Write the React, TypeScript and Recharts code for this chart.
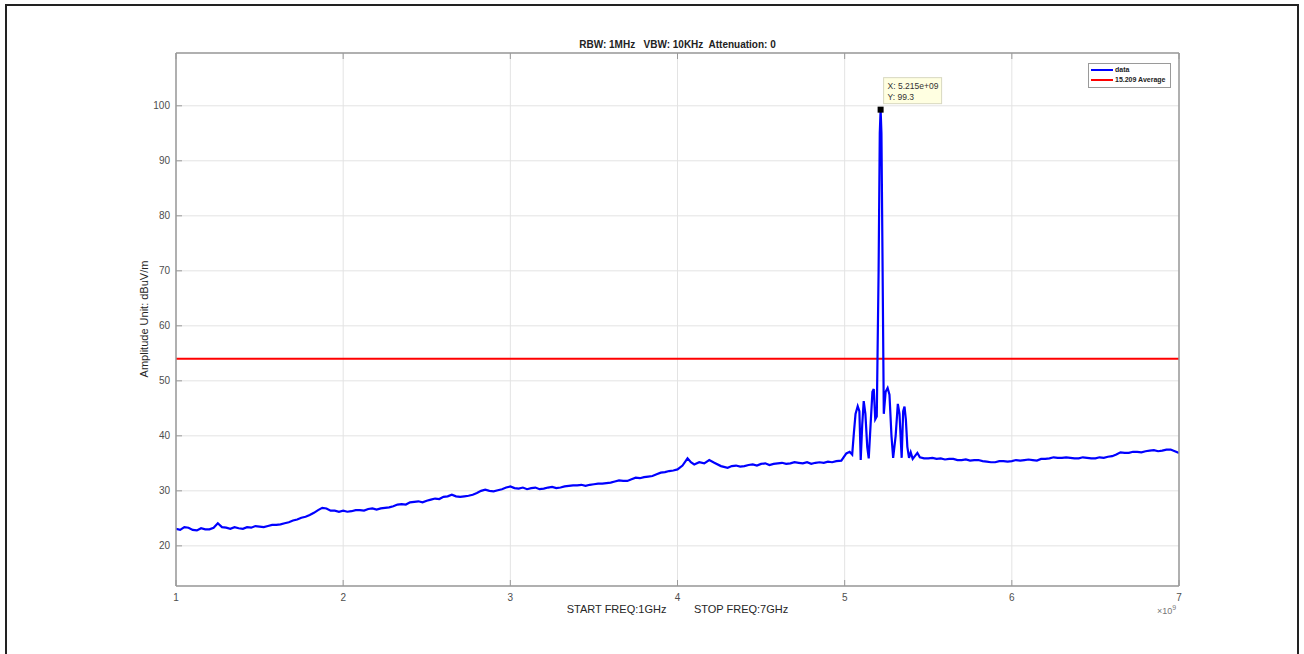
import { LineChart, Line, XAxis, YAxis, CartesianGrid, ReferenceLine, ReferenceDot } from 'recharts'

// frequency in GHz (axis shows x10^9)
const FREQ_GHZ = [
  1.0, 1.025, 1.05, 1.075, 1.1, 1.125, 1.15, 1.175, 1.2, 1.225,
  1.25, 1.275, 1.3, 1.325, 1.35, 1.375, 1.4, 1.425, 1.45, 1.475,
  1.5, 1.525, 1.55, 1.575, 1.6, 1.625, 1.65, 1.675, 1.7, 1.725,
  1.75, 1.775, 1.8, 1.825, 1.85, 1.875, 1.9, 1.925, 1.95, 1.975,
  2.0, 2.025, 2.05, 2.075, 2.1, 2.125, 2.15, 2.175, 2.2, 2.225,
  2.25, 2.275, 2.3, 2.325, 2.35, 2.375, 2.4, 2.425, 2.45, 2.475,
  2.5, 2.525, 2.55, 2.575, 2.6, 2.625, 2.65, 2.675, 2.7, 2.725,
  2.75, 2.775, 2.8, 2.825, 2.85, 2.875, 2.9, 2.925, 2.95, 2.975,
  3.0, 3.025, 3.05, 3.075, 3.1, 3.125, 3.15, 3.175, 3.2, 3.225,
  3.25, 3.275, 3.3, 3.325, 3.35, 3.375, 3.4, 3.425, 3.45, 3.475,
  3.5, 3.525, 3.55, 3.575, 3.6, 3.625, 3.65, 3.675, 3.7, 3.725,
  3.75, 3.775, 3.8, 3.825, 3.85, 3.875, 3.9, 3.925, 3.95, 3.975,
  4.0, 4.03, 4.06, 4.08, 4.1, 4.13, 4.16, 4.19, 4.22, 4.26,
  4.3, 4.325, 4.35, 4.375, 4.4, 4.425, 4.45, 4.475, 4.5, 4.525,
  4.55, 4.575, 4.6, 4.625, 4.65, 4.675, 4.7, 4.725, 4.75, 4.775,
  4.8, 4.825, 4.85, 4.875, 4.9, 4.925, 4.95, 4.98, 5.01, 5.03,
  5.045, 5.055, 5.065, 5.078, 5.088, 5.096, 5.105, 5.114, 5.124, 5.135,
  5.144, 5.155, 5.166, 5.174, 5.183, 5.192, 5.203, 5.21, 5.215, 5.22,
  5.227, 5.234, 5.245, 5.257, 5.268, 5.28, 5.29, 5.305, 5.318, 5.328,
  5.341, 5.35, 5.358, 5.366, 5.375, 5.385, 5.395, 5.407, 5.42, 5.435,
  5.45, 5.475, 5.5, 5.525, 5.55, 5.575, 5.6, 5.625, 5.65, 5.675,
  5.7, 5.725, 5.75, 5.775, 5.8, 5.825, 5.85, 5.875, 5.9, 5.925,
  5.95, 5.975, 6.0, 6.025, 6.05, 6.075, 6.1, 6.125, 6.15, 6.175,
  6.2, 6.225, 6.25, 6.275, 6.3, 6.325, 6.35, 6.375, 6.4, 6.425,
  6.45, 6.475, 6.5, 6.525, 6.55, 6.575, 6.6, 6.625, 6.65, 6.675,
  6.7, 6.725, 6.75, 6.775, 6.8, 6.825, 6.85, 6.875, 6.9, 6.925,
  6.95, 6.975, 7.0,
]

// amplitude dBuV/m
const AMPLITUDE = [
  23.1, 22.9, 23.4, 23.3, 22.9, 22.8, 23.2, 23.0, 23.0, 23.3,
  24.1, 23.4, 23.3, 23.1, 23.4, 23.2, 23.1, 23.4, 23.3, 23.6,
  23.5, 23.4, 23.6, 23.8, 23.8, 23.9, 24.1, 24.3, 24.6, 24.8,
  25.1, 25.3, 25.6, 26.0, 26.5, 26.9, 26.8, 26.4, 26.4, 26.2,
  26.4, 26.2, 26.3, 26.5, 26.5, 26.4, 26.7, 26.8, 26.6, 26.8,
  26.9, 27.0, 27.2, 27.5, 27.6, 27.5, 27.9, 28.0, 28.1, 27.9,
  28.2, 28.4, 28.6, 28.5, 28.9, 29.0, 29.3, 29.0, 28.9, 29.0,
  29.1, 29.3, 29.6, 30.0, 30.2, 30.0, 29.9, 30.1, 30.3, 30.6,
  30.8, 30.5, 30.4, 30.6, 30.3, 30.5, 30.6, 30.3, 30.4, 30.6,
  30.7, 30.5, 30.6, 30.8, 30.9, 31.0, 31.0, 31.1, 30.9, 31.1,
  31.2, 31.3, 31.3, 31.4, 31.5, 31.7, 31.9, 31.8, 31.8, 32.1,
  32.4, 32.3, 32.5, 32.6, 32.7, 33.0, 33.3, 33.4, 33.6, 33.7,
  33.9, 34.6, 35.9, 35.2, 34.8, 35.2, 35.0, 35.6, 35.1, 34.5,
  34.2, 34.5, 34.6, 34.4, 34.5, 34.7, 34.8, 34.6, 34.9, 35.0,
  34.7, 34.9, 35.0, 35.1, 34.9, 35.0, 35.2, 35.1, 35.0, 35.2,
  34.9, 35.1, 35.2, 35.1, 35.3, 35.2, 35.4, 35.5, 36.8, 37.1,
  36.6, 40.5, 44.0, 45.4, 44.5, 35.6, 42.0, 46.3, 44.0, 38.0,
  35.9, 42.0, 48.0, 48.5, 43.0, 43.5, 70.0, 95.0, 99.3, 95.0,
  70.0, 44.0, 48.0, 48.7, 47.5, 40.0, 36.0, 40.0, 45.8, 44.0,
  36.0, 44.5, 45.3, 43.0, 38.0, 36.0, 37.0, 35.8, 36.3, 36.9,
  36.1, 35.9, 35.9, 36.0, 35.8, 35.9, 35.7, 35.8, 35.8, 35.6,
  35.6, 35.7, 35.5, 35.6, 35.6, 35.4, 35.3, 35.2, 35.2, 35.4,
  35.4, 35.3, 35.4, 35.6, 35.5, 35.6, 35.7, 35.6, 35.5, 35.8,
  35.8, 35.9, 36.1, 36.0, 36.0, 36.1, 36.0, 35.9, 35.9, 36.1,
  36.0, 35.9, 35.9, 36.1, 36.0, 36.2, 36.3, 36.6, 37.0, 36.9,
  36.9, 37.1, 37.1, 37.0, 37.2, 37.3, 37.4, 37.2, 37.3, 37.5,
  37.5, 37.2, 36.9,
]

const LIMIT_15209 = 54
const PEAK_F = 5.215
const PEAK_AMP = 99.3
const X_TICKS = [1, 2, 3, 4, 5, 6, 7]
const Y_TICKS = [20, 30, 40, 50, 60, 70, 80, 90, 100]

const FONT = '"Liberation Sans", Arial, Helvetica, sans-serif'
const AXIS_COLOR = '#9a9a9a'

const data = FREQ_GHZ.map((f, i) => ({ f, amp: AMPLITUDE[i] }))

function LeftTick({ x, y, payload }: any) {
  const ax = x + 6
  return (
    <g>
      <line x1={ax} y1={y} x2={ax + 6} y2={y} stroke={AXIS_COLOR} />
      <text x={x} y={y} dy="0.35em" textAnchor="end" fontSize={10} fill="#4d4d4d" fontFamily={FONT}>
        {payload.value}
      </text>
    </g>
  )
}

function RightTick({ x, y }: any) {
  const ax = x - 6
  return <line x1={ax} y1={y} x2={ax - 6} y2={y} stroke={AXIS_COLOR} />
}

function BottomTick({ x, y, payload }: any) {
  const ay = y - 6
  return (
    <g>
      <line x1={x} y1={ay} x2={x} y2={ay - 6} stroke={AXIS_COLOR} />
      <text x={x} y={y} dy="0.85em" textAnchor="middle" fontSize={10} fill="#4d4d4d" fontFamily={FONT}>
        {payload.value}
      </text>
    </g>
  )
}

function TopTick({ x, y }: any) {
  const ay = y + 6
  return <line x1={x} y1={ay} x2={x} y2={ay + 6} stroke={AXIS_COLOR} />
}

function DataTip({ cx, cy }: any) {
  return (
    <g>
      <rect x={cx + 3} y={cy - 32} width={58} height={26} fill="#ffffe1" stroke="#d8d8c0" />
      <text x={cx + 7} y={cy - 21} fontSize={8.5} fill="#333" fontFamily={FONT}>X: 5.215e+09</text>
      <text x={cx + 7} y={cy - 10} fontSize={8.5} fill="#333" fontFamily={FONT}>Y: 99.3</text>
      <rect x={cx - 3} y={cy - 3} width={6} height={6} fill="#000" />
    </g>
  )
}

export default function App() {
  return (
    <div style={{ position: 'absolute', left: 0, top: 0, width: 1304, height: 654, background: '#fff', fontFamily: FONT, overflow: 'hidden' }}>
      <div style={{ position: 'absolute', left: 5, top: 4, width: 1290, height: 660, border: '2px solid #222' }} />
      <div
        style={{
          position: 'absolute', left: 176, width: 1003, top: 39, textAlign: 'center',
          fontSize: 10, fontWeight: 'bold', color: '#222', whiteSpace: 'pre',
        }}
      >
        {'RBW: 1MHz   VBW: 10KHz  Attenuation: 0'}
      </div>
      <LineChart
        width={1304}
        height={654}
        data={data}
        margin={{ left: 136, right: 115, top: 43, bottom: 38 }}
        style={{ position: 'absolute', left: 0, top: 0 }}
      >
        <CartesianGrid stroke="#e3e3e3" />
        <XAxis
          dataKey="f"
          type="number"
          domain={[1, 7]}
          ticks={X_TICKS}
          height={30}
          stroke={AXIS_COLOR}
          strokeWidth={1.5}
          tickLine={false}
          tickSize={0}
          tickMargin={6}
          tick={<BottomTick />}
          allowDataOverflow
        />
        <XAxis
          xAxisId="top"
          orientation="top"
          dataKey="f"
          type="number"
          domain={[1, 7]}
          ticks={X_TICKS}
          height={10}
          stroke={AXIS_COLOR}
          strokeWidth={1.5}
          tickLine={false}
          tickSize={0}
          tickMargin={6}
          tick={<TopTick />}
        />
        <YAxis
          type="number"
          domain={[12.7, 109.6]}
          ticks={Y_TICKS}
          width={40}
          stroke={AXIS_COLOR}
          strokeWidth={1.5}
          tickLine={false}
          tickSize={0}
          tickMargin={6}
          tick={<LeftTick />}
          allowDataOverflow
        />
        <YAxis
          yAxisId="right"
          orientation="right"
          type="number"
          domain={[12.7, 109.6]}
          ticks={Y_TICKS}
          width={10}
          stroke={AXIS_COLOR}
          strokeWidth={1.5}
          tickLine={false}
          tickSize={0}
          tickMargin={6}
          tick={<RightTick />}
        />
        <ReferenceLine y={LIMIT_15209} stroke="#ff0000" strokeWidth={2} ifOverflow="hidden" />
        <Line
          type="linear"
          dataKey="amp"
          stroke="#0000ff"
          strokeWidth={2.2}
          dot={false}
          isAnimationActive={false}
        />
        <ReferenceDot x={PEAK_F} y={PEAK_AMP} r={3} shape={<DataTip />} ifOverflow="visible" />
      </LineChart>
      <div
        style={{
          position: 'absolute', left: 144, top: 319, transform: 'translate(-50%, -50%) rotate(-90deg)',
          fontSize: 11, color: '#262626', whiteSpace: 'nowrap',
        }}
      >
        Amplitude Unit: dBuV/m
      </div>
      <div
        style={{
          position: 'absolute', left: 176, width: 1003, top: 603, textAlign: 'center',
          fontSize: 11, color: '#262626', whiteSpace: 'pre',
        }}
      >
        {'START FREQ:1GHz         STOP FREQ:7GHz'}
      </div>
      <div style={{ position: 'absolute', left: 1157, top: 604, fontSize: 9, color: '#777' }}>
        {'\u00d7'}10<sup style={{ fontSize: 7 }}>9</sup>
      </div>
      <div
        style={{
          position: 'absolute', left: 1088, top: 63, width: 83, height: 25, border: '1px solid #9a9a9a',
          background: '#fff', fontSize: 7, fontWeight: 'bold', color: '#222', boxSizing: 'border-box',
          padding: '1px 2px', whiteSpace: 'nowrap', lineHeight: '10px',
        }}
      >
        <div style={{ display: 'flex', alignItems: 'center', height: 10 }}>
          <span style={{ display: 'inline-block', width: 22, height: 2, background: '#0000ff', marginRight: 2 }} />
          data
        </div>
        <div style={{ display: 'flex', alignItems: 'center', height: 10 }}>
          <span style={{ display: 'inline-block', width: 22, height: 2, background: '#ff0000', marginRight: 2 }} />
          15.209 Average
        </div>
      </div>
    </div>
  )
}
